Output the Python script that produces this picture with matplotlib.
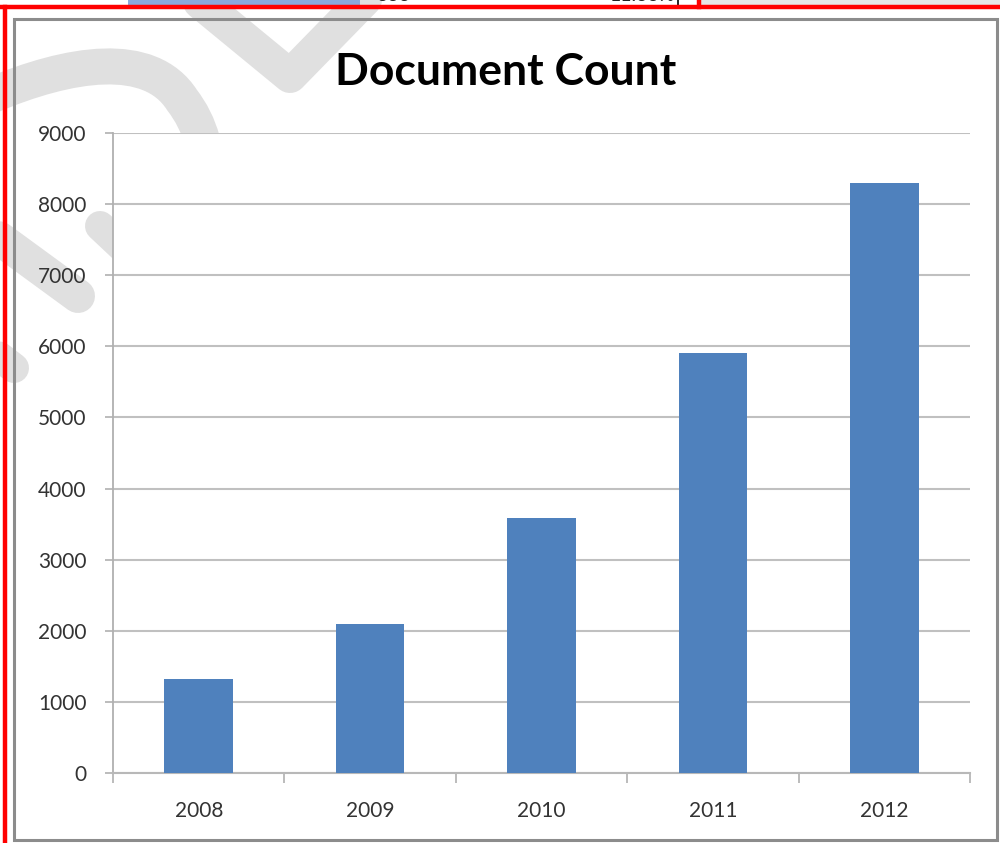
import matplotlib
matplotlib.use("Agg")
import matplotlib.pyplot as plt
from matplotlib.lines import Line2D
from matplotlib.patches import Rectangle, PathPatch
from matplotlib.path import Path
import numpy as np

# data
years = ["2008", "2009", "2010", "2011", "2012"]
doc_count = [1320, 2095, 3580, 5900, 8300]
y_ticks = [0, 1000, 2000, 3000, 4000, 5000, 6000, 7000, 8000, 9000]

W, H = 1000, 843
plt.rcParams['font.family'] = ['Lato', 'DejaVu Sans']

fig = plt.figure(figsize=(W / 100, H / 100), dpi=100)
fig.patch.set_facecolor('white')


def px(x, y):
    """pixel (from top-left) -> figure fraction"""
    return x / W, 1 - y / H


WM = '#e0e0e0'


def band(points, width_px, codes=None):
    verts = [px(x, y) for x, y in points]
    if codes is None:
        codes = [Path.MOVETO] + [Path.LINETO] * (len(verts) - 1)
    patch = PathPatch(Path(verts, codes), transform=fig.transFigure, fill=False,
                      edgecolor=WM, lw=width_px * 0.72, capstyle='round',
                      joinstyle='round', zorder=0.5)
    fig.add_artist(patch)


# faint watermark strokes behind the chart
band([(-10, 96), (70, 62), (150, 50), (182, 100), (196, 118), (202, 140)], 36,
     [Path.MOVETO, Path.CURVE4, Path.CURVE4, Path.CURVE4, Path.CURVE3, Path.CURVE3])
band([(200, 2), (290, 76), (372, -8)], 34)
band([(-15, 228), (78, 296)], 34)
band([(100, 226), (200, 320)], 30)
band([(-25, 338), (14, 368)], 30)

# spreadsheet strip peeking in at the top
fig.add_artist(Rectangle(px(128, 5), 232 / W, 5 / H, transform=fig.transFigure,
                         facecolor='#8aa8dc', edgecolor='none', zorder=2))
fig.add_artist(Rectangle(px(700, 5), 300 / W, 5 / H, transform=fig.transFigure,
                         facecolor='#e6e6e6', edgecolor='none', zorder=2))
fig.text(*px(410, 4), "333", ha='right', va='bottom', fontsize=14, color='#222222', zorder=2)
fig.text(*px(675, 4), "11.33%", ha='right', va='bottom', fontsize=14, color='#222222', zorder=2)
fig.add_artist(Line2D([678 / W] * 2, [1 - 6 / H, 1], transform=fig.transFigure,
                      color='black', lw=1.2, zorder=2))

# red selection frame
fig.add_artist(Line2D([px(0, 7)[0], 1], [px(0, 7)[1]] * 2, transform=fig.transFigure,
                      color='#ff0000', lw=3.2, zorder=3))
fig.add_artist(Line2D([px(4.5, 0)[0]] * 2, [0, px(0, 7)[1]], transform=fig.transFigure,
                      color='#ff0000', lw=3.2, zorder=3))
fig.add_artist(Line2D([px(699, 0)[0]] * 2, [px(0, 7)[1], 1], transform=fig.transFigure,
                      color='#ff0000', lw=3.2, zorder=3))

# chart area border
x0, y0 = px(14, 840)
fig.add_artist(Rectangle((x0, y0), (997 - 14) / W, (840 - 19) / H, transform=fig.transFigure,
                         facecolor='none', edgecolor='#8c8c8c', lw=2.2, zorder=3))

# plot area
ax = fig.add_axes([113 / W, 70 / H, 857 / W, 640 / H], zorder=1)
ax.set_facecolor('white')

x = np.arange(len(years))
ax.bar(x, doc_count, width=0.4, color='#4f81bd', zorder=3)

ax.set_xlim(-0.5, len(years) - 0.5)
ax.set_ylim(0, 9000)
ax.set_yticks(y_ticks)
ax.set_yticklabels([str(v) for v in y_ticks])
ax.set_xticks(x)
ax.set_xticklabels(years)
ax.set_xticks(np.arange(len(years) + 1) - 0.5, minor=True)

ax.grid(axis='y', color='#c0c0c0', lw=1.5, zorder=0)
ax.set_axisbelow(True)

for s in ['top', 'right']:
    ax.spines[s].set_visible(False)
ax.spines['left'].set_color('#b0b0b0')
ax.spines['left'].set_linewidth(1.3)
ax.spines['bottom'].set_color('#b8b8b8')
ax.spines['bottom'].set_linewidth(1.5)

ax.tick_params(axis='y', length=6, width=1.2, color='#b0b0b0', pad=13,
               labelsize=15, labelcolor='#333333')
ax.tick_params(axis='x', which='major', length=0, pad=20,
               labelsize=15, labelcolor='#333333')
ax.tick_params(axis='x', which='minor', length=7, width=1.2, color='#b0b0b0')

fig.text(*px(506, 72), "Document Count", ha='center', va='center',
         fontsize=32, fontweight='bold', color='black')

fig.savefig('out.png', dpi=100, facecolor='white')
